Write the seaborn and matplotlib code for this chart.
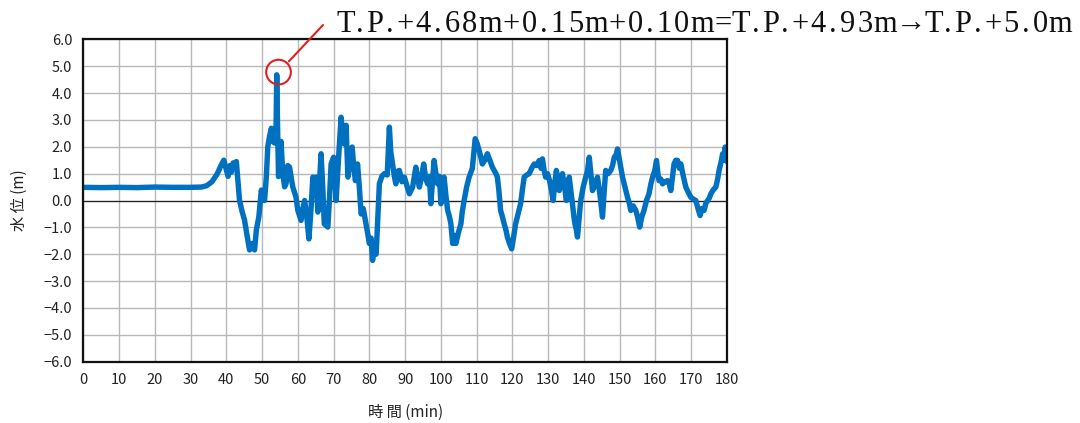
import numpy as np
import pandas as pd
import matplotlib.pyplot as plt
import seaborn as sns
from matplotlib.patches import Ellipse

# Water level time series
time_min = [0, 5, 10, 15, 20, 25, 30, 33, 34.5, 36, 37.5, 38.5, 39.3, 40.0, 40.5, 41.0, 41.4, 41.9, 42.3, 42.8,
            43.7, 44.4, 45.1, 45.8, 46.5, 47.2, 47.9, 48.4, 49.1, 49.8, 50.3, 50.7, 51.2, 51.6, 52.1, 52.6,
            53.0, 53.5, 53.9, 54.1, 54.3, 54.6, 55.0, 55.3, 55.8, 56.3, 56.7, 57.2, 57.7, 58.2, 58.6, 59.5,
            60.0, 60.9, 61.4, 61.9, 62.5, 63.1, 63.6, 64.2, 64.6, 65.1, 65.6, 66.1, 66.5, 67.0, 67.4, 68.4,
            68.9, 69.3, 70.0, 70.7, 71.4, 72.1, 72.6, 73.0, 73.5, 74.0, 74.6, 75.2, 75.6, 76.1, 76.7, 77.2,
            77.7, 78.3, 78.9, 79.5, 80.0, 80.5, 80.9, 81.4, 81.9, 82.3, 82.8, 83.5, 84.2, 85.0, 85.6, 86.0,
            86.5, 87.0, 87.4, 88.0, 88.4, 89.1, 89.8, 90.5, 91.2, 92.1, 92.6, 93.0, 93.5, 94.0, 94.6, 95.2,
            95.8, 96.3, 96.8, 97.2, 97.6, 98.1, 98.6, 99.1, 99.6, 100.0, 100.4, 100.9, 101.4, 101.9, 102.4,
            102.8, 103.3, 103.8, 104.2, 104.9, 105.6, 106.0, 106.5, 107.2, 107.9, 108.8, 109.6, 110.2, 110.7,
            111.2, 111.6, 112.3, 113.0, 113.7, 114.4, 114.9, 115.4, 115.8, 116.2, 116.7, 117.2, 117.7, 118.2,
            118.6, 119.2, 119.8, 120.3, 120.9, 121.6, 122.3, 122.8, 123.3, 124.0, 124.7, 125.4, 126.1, 126.8,
            127.5, 128.0, 128.4, 128.9, 129.3, 129.8, 130.4, 130.9, 131.4, 131.9, 132.3, 132.7, 133.1, 133.6,
            134.0, 134.6, 135.1, 135.5, 135.9, 136.4, 136.8, 137.2, 137.5, 137.9, 138.2, 138.7, 139.1, 139.8,
            140.5, 141.0, 141.5, 142.0, 142.4, 143.1, 143.8, 144.5, 145.2, 145.7, 146.1, 146.8, 147.5, 148.0,
            148.5, 149.0, 149.4, 150.1, 150.8, 151.5, 152.2, 152.7, 153.1, 153.8, 154.5, 155.0, 155.6, 156.2,
            156.8, 157.5, 158.2, 158.7, 159.2, 159.8, 160.3, 160.7, 161.0, 161.5, 162.0, 162.7, 163.4, 163.9,
            164.3, 164.8, 165.2, 165.7, 166.2, 166.7, 167.1, 167.8, 168.5, 169.2, 169.9, 170.6, 171.3, 171.9,
            172.5, 173.0, 173.6, 174.1, 174.6, 175.1, 175.5, 176.2, 176.9, 177.4, 177.8, 178.3, 178.8, 179.2,
            179.5, 179.8, 180.0]
water_level = [0.49, 0.48, 0.49, 0.48, 0.50, 0.49, 0.49, 0.50, 0.55, 0.70, 1.00, 1.30, 1.50, 1.15, 0.90, 1.30, 1.05, 1.40, 1.25, 1.45,
               0.00, -0.40, -0.73, -1.30, -1.84, -1.60, -1.84, -1.10, -0.60, 0.39, 0.10, 0.00, 0.90, 2.00, 2.40, 2.69,
               2.20, 2.14, 2.60, 4.68, 3.00, 0.89, 1.60, 2.20, 1.00, 0.51, 0.62, 1.30, 1.24, 0.80, 0.50, 0.12,
               -0.37, -0.74, -0.30, 0.00, -0.60, -1.43, -0.50, 0.87, 0.50, 0.87, -0.43, 0.80, 1.74, 0.40, -0.87, -0.99,
               0.20, 1.36, 1.61, 0.00, 1.60, 3.10, 2.40, 2.10, 2.80, 0.87, 1.40, 1.99, 1.30, 0.74, 1.36, 0.50,
               -0.50, -0.30, -0.74, -1.20, -1.60, -1.40, -2.23, -1.70, -2.00, -0.80, 0.62, 0.90, 1.00, 0.95, 2.73, 1.80,
               1.36, 0.90, 0.62, 1.10, 1.12, 0.70, 0.87, 0.55, 0.25, 0.50, 0.90, 1.24, 0.80, 0.50, 0.90, 1.36,
               0.80, 0.62, 0.90, -0.12, 0.60, 1.49, 1.00, 0.62, 0.90, -0.12, 0.40, 0.87, 0.20, -0.37, -0.60,
               -0.87, -1.60, -1.30, -1.60, -1.20, -0.87, -0.40, 0.00, 0.50, 0.87, 1.20, 2.30, 2.10, 1.86,
               1.60, 1.36, 1.50, 1.74, 1.50, 1.24, 1.12, 1.00, 0.87, 0.40, -0.37, -0.60, -0.87, -1.10,
               -1.36, -1.60, -1.80, -1.40, -0.87, -0.50, -0.12, 0.40, 0.87, 0.95, 1.00, 1.20, 1.36, 1.30,
               1.49, 1.20, 1.55, 1.10, 0.87, 1.00, 0.74, 0.40, 0.00, 0.70, 1.12, 0.80, 0.37, 0.80,
               1.00, 0.50, 0.00, 0.50, 0.87, 0.30, -0.12, -0.60, -0.87, -1.10, -1.36, -0.60, 0.00, 0.50,
               0.87, 1.10, 1.61, 0.90, 0.37, 0.60, 0.87, 0.20, -0.62, 0.40, 1.12, 1.00, 1.12, 1.30,
               1.61, 1.70, 1.92, 1.40, 0.87, 0.50, 0.12, -0.10, -0.37, -0.20, -0.37, -0.60, -0.99, -0.60,
               -0.37, 0.00, 0.25, 0.60, 0.87, 1.10, 1.49, 1.00, 0.74, 0.80, 0.62, 0.70, 0.74, 0.60,
               0.37, 0.90, 1.36, 1.50, 1.49, 1.20, 1.36, 0.90, 0.50, 0.30, 0.12, 0.05, 0.00, -0.30,
               -0.56, -0.30, -0.37, -0.10, 0.00, 0.10, 0.25, 0.40, 0.50, 0.80, 1.12, 1.40, 1.74, 1.50,
               1.99, 1.60, 1.45]

x_ticks = list(range(0, 181, 10))
y_ticks = [6.0, 5.0, 4.0, 3.0, 2.0, 1.0, 0.0, -1.0, -2.0, -3.0, -4.0, -5.0, -6.0]
peak_time = 54.6
peak_level = 4.78
note_text = "T.P.+4.68m+0.15m+0.10m=T.P.+4.93m→T.P.+5.0m"

df = pd.DataFrame({"time": time_min, "level": water_level})

sns.set_style("white")
plt.rcParams['font.family'] = ['Noto Sans CJK JP', 'DejaVu Sans']

fig = plt.figure(figsize=(10.8, 4.23), dpi=100)
ax = fig.add_axes([0.0771, 0.145, 0.596, 0.762])

sns.lineplot(data=df, x="time", y="level", ax=ax, color="#0070C0", linewidth=3.9,
             sort=False, estimator=None)

ax.set_xlim(0, 180)
ax.set_ylim(-6, 6)
ax.set_xticks(x_ticks)
ax.set_yticks(y_ticks)
ax.set_xticklabels([str(t) for t in x_ticks])
ax.set_yticklabels([f"{v:.1f}".replace("-", "\u2212") for v in y_ticks])
ax.tick_params(axis="both", labelsize=10.5, length=0, pad=8, colors="#222222")
ax.grid(True, color="#b8b8b8", linewidth=1.0)
ax.set_axisbelow(True)
ax.axhline(0, color="#222222", linewidth=0.9, zorder=1.5)
for s in ax.spines.values():
    s.set_visible(True)
    s.set_color("#111111")
    s.set_linewidth(1.6)

ax.set_xlabel("時 間 (min)", fontsize=11, labelpad=12, color="#222222")
ax.set_ylabel("水 位 (m)", fontsize=11, labelpad=11, color="#222222")

# red circle around the peak and leader line to the note
circ = Ellipse((peak_time, peak_level), width=6.9, height=0.92, fill=False,
               edgecolor="#E02020", linewidth=1.5, zorder=5)
ax.add_patch(circ)
ax.annotate("", xy=(peak_time + 2.9, peak_level + 0.4), xycoords="data",
            xytext=(323, 423 - 25), textcoords="figure pixels",
            arrowprops=dict(arrowstyle="-", color="#E02020", linewidth=1.5,
                            shrinkA=0, shrinkB=0), annotation_clip=False)

# note text: Mincho-like half-width cells, each glyph centred in its cell
cell = {".": 12.2, "m": 24.0, "+": 19.5, "=": 19.5, "→": 29.0}
cells = [cell.get(ch, 17.9) for ch in note_text]
x_start, x_end, y_base = 337, 1072, 423 - 32
scale = (x_end - x_start) / sum(cells)
x = x_start
for ch, w in zip(note_text, cells):
    w *= scale
    fig.text((x + w / 2) / 1080, y_base / 423, ch, ha="center", va="baseline", fontsize=22,
             family=["Liberation Serif", "DejaVu Serif"], color="#111111")
    x += w

fig.savefig("out.png", dpi=100)
